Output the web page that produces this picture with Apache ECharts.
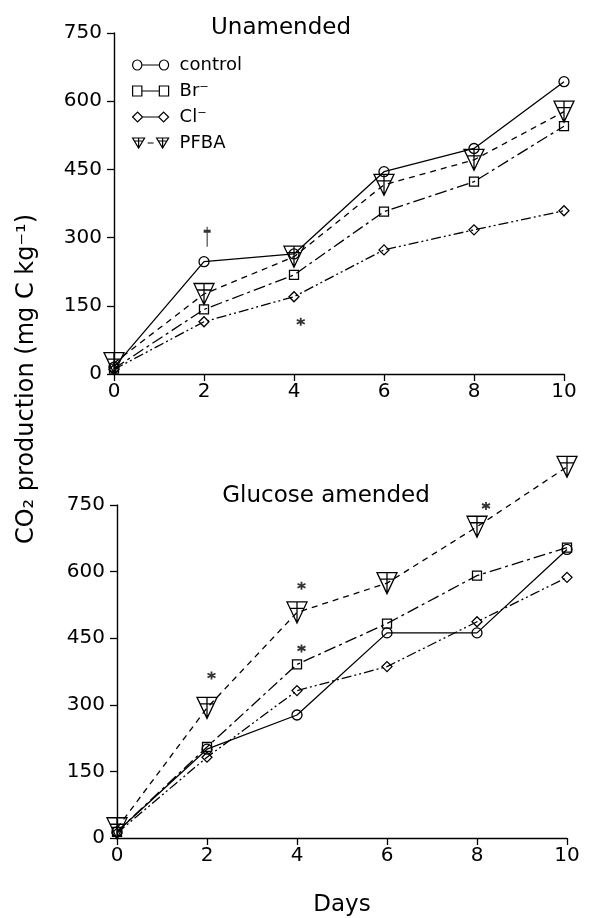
<!DOCTYPE html>
<html>
<head>
    <meta charset="UTF-8">
    <title>CO2 production</title>
    <style>
        html, body { margin: 0; padding: 0; background: #fff; }
        #main { width: 594px; height: 918px; }
    </style>
    <script src="https://cdn.jsdelivr.net/npm/echarts@6/dist/echarts.min.js"></script>
</head>
<body>
    <div id="main"></div>
    <script type="text/javascript">
        // days on x axis
        var days = [0, 2, 4, 6, 8, 10];
        var names = ['control', 'Br⁻', 'Cl⁻', 'PFBA'];

        // Unamended panel (mg C / kg)
        var unControl = [15, 247, 264, 445, 496, 643];
        var unBr = [12, 142, 218, 357, 423, 545];
        var unCl = [10, 115, 170, 273, 317, 359];
        var unPfba = [24, 176, 258, 416, 471, 577];

        // Glucose amended panel
        var glControl = [14, 200, 277, 462, 462, 650];
        var glBr = [14, 205, 391, 483, 591, 654];
        var glCl = [11, 182, 332, 386, 487, 587];
        var glPfba = [22, 293, 508, 574, 701, 836];

        // significance marks [day, value, kind]
        var unNotes = [[2.07, 302, 'dagger'], [4.15, 115, 'star']];
        var glNotes = [[2.1, 366, 'star'], [4.1, 568, 'star'], [4.1, 427, 'star'], [8.2, 748, 'star']];

        var font = 'DejaVu Sans';
        var triPath = 'path://M0,0 L20,0 L10,21 Z M10,0 L10,21 M3,6.5 L17,6.5';
        var symbols = ['circle', 'rect', 'diamond', triPath];
        var sizes = [10, 9, 10, [20, 21]];
        var dashes = ['solid', [12, 4, 3, 4], [10, 3, 2, 3, 2, 3], [6, 5]];
        var legendIcons = [
            'path://M0.5,5 A4.5,4.5 0 1,1 9.5,5 A4.5,4.5 0 1,1 0.5,5 Z M9.5,5 L26.5,5 M26.5,5 A4.5,4.5 0 1,1 35.5,5 A4.5,4.5 0 1,1 26.5,5 Z',
            'path://M0.5,0.5 L9.5,0.5 L9.5,9.5 L0.5,9.5 Z M9.5,5 L26.5,5 M26.5,0.5 L35.5,0.5 L35.5,9.5 L26.5,9.5 Z',
            'path://M0,5 L5,0.5 L10,5 L5,9.5 Z M10,5 L26,5 M26,5 L31,0.5 L36,5 L31,9.5 Z',
            'path://M0,0 L12,0 L6,10 Z M6,0 L6,10 M1.5,3 L10.5,3 M15,5 L21,5 M24,0 L36,0 L30,10 Z M30,0 L30,10 M25.5,3 L34.5,3'
        ];
        var notePaths = {
            star: { symbol: 'path://M5,0 L5,10 M0.67,2.5 L9.33,7.5 M0.67,7.5 L9.33,2.5', size: 8 },
            dagger: { symbol: 'path://M4,0 L4,20 M1,4.5 L7,4.5', size: [7, 20] }
        };

        function zip(vals) {
            return days.map(function (d, i) { return [d, vals[i]]; });
        }

        function lineSeries(idx, i, vals) {
            return {
                name: names[i],
                type: 'line',
                xAxisIndex: idx,
                yAxisIndex: idx,
                data: zip(vals),
                clip: false,
                symbol: symbols[i],
                symbolSize: sizes[i],
                z: 3 + i,
                lineStyle: { color: '#000', width: 1.3, type: dashes[i] },
                itemStyle: { color: 'rgba(0,0,0,0)', borderColor: '#000', borderWidth: 1.3 },
                emphasis: { disabled: true },
                animation: false
            };
        }

        function noteSeries(idx, notes) {
            return {
                type: 'scatter',
                xAxisIndex: idx,
                yAxisIndex: idx,
                silent: true,
                animation: false,
                clip: false,
                data: notes.map(function (n) {
                    return {
                        value: [n[0], n[1]],
                        symbol: notePaths[n[2]].symbol,
                        symbolSize: notePaths[n[2]].size
                    };
                }),
                itemStyle: { color: 'rgba(0,0,0,0)', borderColor: '#000', borderWidth: 1.8 }
            };
        }

        function xAxis(idx) {
            return {
                type: 'value', gridIndex: idx, min: 0, max: 10, interval: 2,
                axisLine: { lineStyle: { color: '#000', width: 1.4 } },
                axisTick: { length: 7, lineStyle: { color: '#000', width: 1.3 } },
                axisLabel: { color: '#000', fontSize: 20, fontFamily: font, margin: 8 },
                splitLine: { show: false },
                name: idx === 1 ? 'Days' : '',
                nameLocation: 'middle',
                nameGap: 56,
                nameTextStyle: { color: '#000', fontSize: 23, fontFamily: font }
            };
        }

        function yAxis(idx) {
            return {
                type: 'value', gridIndex: idx, min: 0, max: 750, interval: 150,
                axisLine: { show: true, lineStyle: { color: '#000', width: 1.4 } },
                axisTick: { show: true, length: 7, lineStyle: { color: '#000', width: 1.3 } },
                axisLabel: { color: '#000', fontSize: 20, fontFamily: font, margin: 12 },
                splitLine: { show: false }
            };
        }

        var series = [];
        [unControl, unBr, unCl, unPfba].forEach(function (v, i) { series.push(lineSeries(0, i, v)); });
        [glControl, glBr, glCl, glPfba].forEach(function (v, i) { series.push(lineSeries(1, i, v)); });
        series.push(noteSeries(0, unNotes));
        series.push(noteSeries(1, glNotes));

        var option = {
            backgroundColor: '#fff',
            animation: false,
            grid: [
                { left: 114, top: 33, width: 450, height: 341 },
                { left: 117, top: 505, width: 450, height: 334 }
            ],
            xAxis: [xAxis(0), xAxis(1)],
            yAxis: [yAxis(0), yAxis(1)],
            legend: {
                orient: 'vertical',
                left: 127,
                top: 51,
                itemWidth: 36,
                itemHeight: 10,
                itemGap: 8,
                selectedMode: false,
                symbolKeepAspect: false,
                data: names.map(function (n, i) { return { name: n, icon: legendIcons[i] }; }),
                itemStyle: { color: 'rgba(0,0,0,0)', borderColor: '#000', borderWidth: 1.2 },
                textStyle: { color: '#000', fontSize: 18, fontFamily: font, padding: [0, 0, 0, 6], lineHeight: 18 }
            },
            graphic: [
                {
                    type: 'text', x: 281, y: 28,
                    style: { text: 'Unamended', font: '23px "DejaVu Sans"', fill: '#000', align: 'center', verticalAlign: 'middle' }
                },
                {
                    type: 'text', x: 326, y: 496,
                    style: { text: 'Glucose amended', font: '23px "DejaVu Sans"', fill: '#000', align: 'center', verticalAlign: 'middle' }
                },
                {
                    type: 'text', x: 27, y: 379, rotation: Math.PI / 2,
                    style: { text: 'CO₂ production (mg C kg⁻¹)', font: '24px "DejaVu Sans"', fill: '#000', align: 'center', verticalAlign: 'middle' }
                }
            ],
            series: series
        };

        var myChart = echarts.init(document.getElementById('main'));
        myChart.setOption(option);
    </script>
</body>
</html>
